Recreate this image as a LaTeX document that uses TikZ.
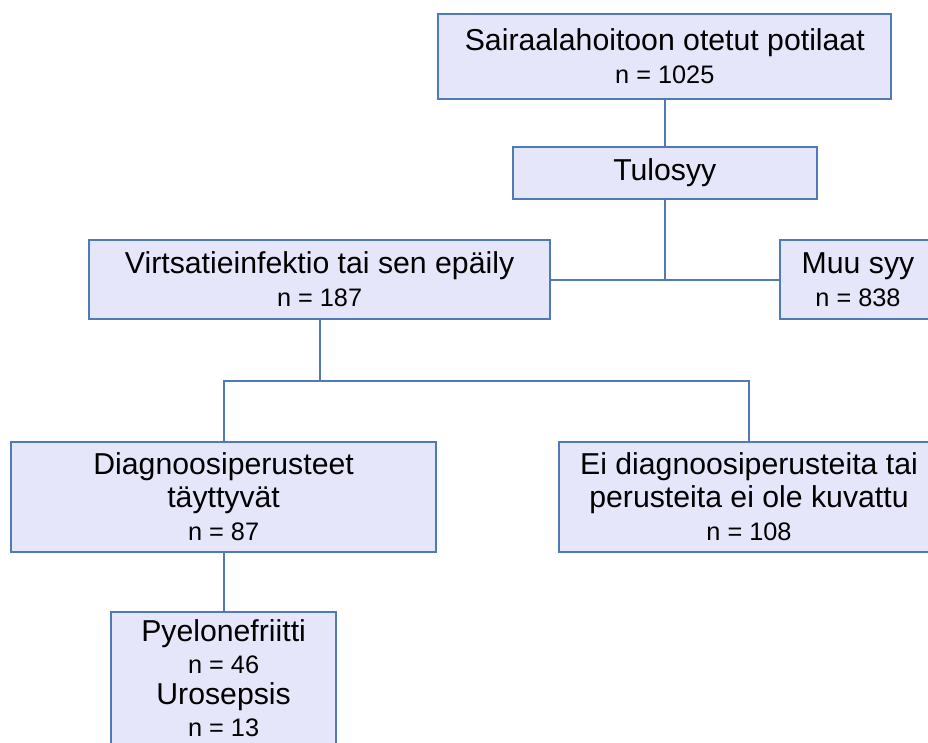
\documentclass[tikz,border=0pt]{standalone}
\usepackage{fontspec}
\setmainfont{Liberation Sans}
\usepackage{tikz}

\definecolor{reuna}{RGB}{79,122,182}
\definecolor{tausta}{RGB}{230,230,250}
\newcommand{\nrivi}[1]{{\fontsize{18}{23.5}\selectfont #1}}

\begin{document}
\begin{tikzpicture}
[scale=1,
 laatikko/.style={draw=reuna, fill=tausta, line width=1.4pt, align=center,
   inner sep=0pt, font=\fontsize{21.5}{23.5}\selectfont},
 viiva/.style={draw=reuna, line width=1.4pt}]
\useasboundingbox (0,0) rectangle (23.2,-18.55);
\clip (0,0) rectangle (23.2,-18.55);
\node[laatikko, minimum width=11.33cm, minimum height=2.13cm] (kaikki) at (16.62,-1.41) {Sairaalahoitoon otetut potilaat\\ \nrivi{n = 1025}};
\node[laatikko, minimum width=7.6cm, minimum height=1.3cm] (tulo) at (16.62,-4.325) {Tulosyy};
\node[laatikko, minimum width=11.53cm, minimum height=1.98cm] (ivi) at (7.99,-6.99) {Virtsatieinfektio tai sen epäily\\ \nrivi{n = 187}};
\node[laatikko, minimum width=3.9cm, minimum height=1.98cm] (muu) at (21.45,-6.99) {Muu syy\\ \nrivi{n = 838}};
\node[laatikko, minimum width=10.63cm, minimum height=2.75cm] (dg) at (5.59,-12.425) {Diagnoosiperusteet\\ täyttyvät\\ \nrivi{n = 87}};
\node[laatikko, minimum width=9.5cm, minimum height=2.75cm] (eidg) at (18.725,-12.425) {Ei diagnoosiperusteita tai\\ perusteita ei ole kuvattu\\ \nrivi{n = 108}};
\node[laatikko, minimum width=5.63cm, minimum height=3.3cm] (pyel) at (5.59,-16.95) {Pyelonefriitti\\[-1pt] \nrivi{n = 46}\\[-1pt] Urosepsis\\[-1pt] \nrivi{n = 13}};
\coordinate (haara) at (7.99,-9.525);
\draw[viiva] (kaikki) -- (tulo);
\draw[viiva] (ivi.east) -- (muu.west);
\draw[viiva] (tulo.south) -- (tulo.south |- ivi.east);
\draw[viiva] (ivi.south) -- (haara);
\draw[viiva] (dg.north) |- (haara) -| (eidg.north);
\draw[viiva] (dg.south) -- (pyel.north);
\end{tikzpicture}
\end{document}
